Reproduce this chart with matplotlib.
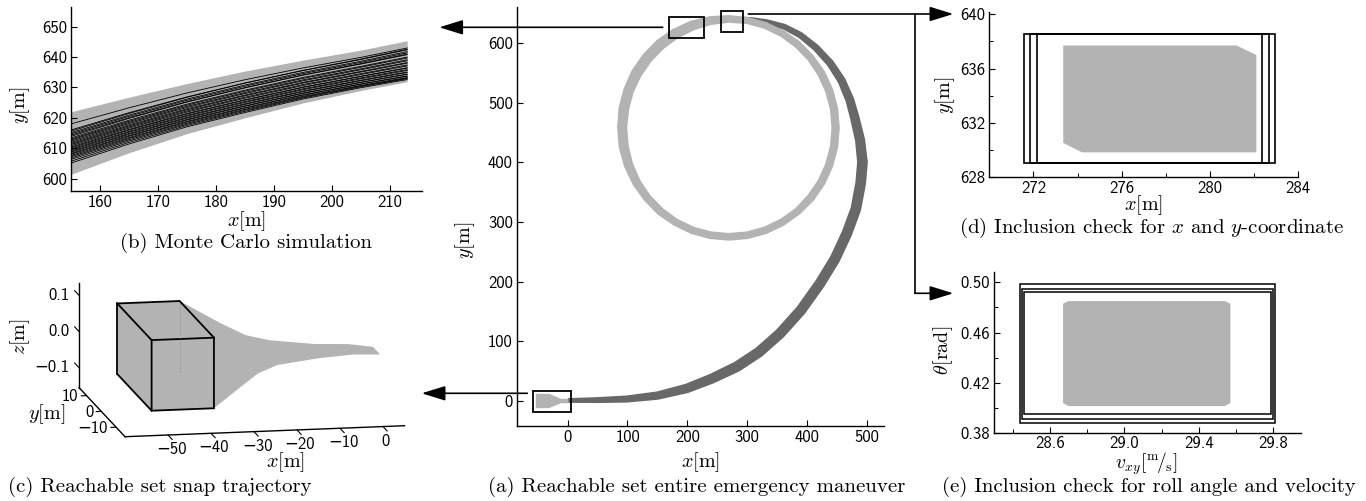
import numpy as np
import matplotlib
matplotlib.use("Agg")
import matplotlib.pyplot as plt
from matplotlib.path import Path
from matplotlib.patches import PathPatch, Polygon, Rectangle, FancyArrowPatch

plt.rcParams["mathtext.fontset"] = "cm"

W, H = 1366, 501
LIGHT = "#b3b3b3"
DARK = "#686868"
TICK_FONT = ["cmss10", "DejaVu Sans"]
CAP_FONT = "cmr10"

# ---------------- (a) whole manoeuvre -----------------
# start of the manoeuvre (light funnel)
start_x = [-54.2, -31.8, -12.3, 0.5]
start_top = [12.9, 12.9, 4.5, 4.3]
start_bot = [-11.2, -11.2, -2.8, -3.0]

# dark band: centre line and width
spiral_x = [0, 50, 99, 150, 199, 240, 283, 320, 355, 390, 422, 447, 467, 482,
            490, 493, 489, 480, 472, 458, 439, 415, 389, 362, 333, 308, 290]
spiral_y = [0.8, 1.5, 3.3, 9, 21, 37, 57.5, 82, 113, 152, 197, 238, 281, 322,
            365, 400, 437, 475, 504, 537, 566, 592, 613, 627, 635, 639, 640.5]
spiral_w = [8, 10, 12, 14, 16, 17, 18, 18, 18, 18, 18, 18, 18, 18,
            18, 18, 17, 16, 15, 14, 13, 12, 11, 10, 9, 8, 7]

# light ring: centre line and width (closed)
ring_x = [448.1, 445.4, 437.4, 424.2, 406.3, 384.4, 358.9, 330.6, 300.6, 269.6,
          238.6, 208.6, 180.3, 154.8, 132.9, 115.0, 101.8, 93.8, 91.1, 93.8,
          101.8, 115.0, 132.9, 154.8, 180.3, 208.6, 238.6, 269.6, 300.6, 330.6,
          358.9, 384.4, 406.3, 424.2, 437.4, 445.4]
ring_y = [457.5, 489.3, 519.9, 548.8, 574.8, 597.3, 615.5, 629.1, 637.3, 640.0,
          637.3, 629.1, 615.5, 597.3, 574.8, 548.8, 519.9, 489.3, 457.5, 425.7,
          395.1, 366.2, 340.2, 317.7, 299.5, 285.9, 277.7, 275.0, 277.7, 285.9,
          299.5, 317.7, 340.2, 366.2, 395.1, 425.7]
ring_w = [14, 14, 14, 14, 13, 13, 12, 12, 12, 13, 15, 17, 18, 19, 19, 19, 18, 18,
          17, 17, 16, 15, 14, 14, 13, 13, 13, 13, 13, 13, 13, 13, 14, 14, 14, 14]

# zoom boxes (x0, y0, width, height)
zoom_boxes = [(-58.5, -17.9, 64, 35.2), (170, 607.5, 58, 35.5), (257, 618, 36.6, 36)]

# ---------------- (b) Monte Carlo -----------------
mc_band_x = [155, 165, 175, 185, 195, 205, 213]
mc_band_top = [622, 626.8, 631.3, 635.4, 639.0, 642.3, 645.4]
mc_band_bot = [601.4, 608.5, 614.8, 620.0, 624.9, 629.0, 631.9]
mc_start = [618.0, 616.0, 615.6, 615.1, 614.7, 614.3, 613.9, 613.4, 613.0, 612.7,
            612.3, 611.9, 611.5, 611.2, 610.8, 610.4, 610.1, 609.7, 609.4, 609.0,
            608.7, 608.3, 608.0, 607.6, 607.2, 606.8, 606.3, 605.7, 605.1]
mc_end = [643.0, 642.4, 642.6, 641.8, 641.4, 640.8, 641.0, 640.0, 639.7, 639.1,
          638.8, 638.2, 638.0, 637.4, 637.1, 636.5, 636.4, 635.9, 635.6, 635.1,
          634.9, 634.4, 634.3, 633.8, 633.7, 633.3, 633.1, 632.9, 632.6]

# ---------------- (c) snap trajectory (3-D) -----------------
c_xlim = (-60, 5)
c_ylim = (-16, 15)
c_zlim = (-0.155, 0.134)
c_xticks = [-50, -40, -30, -20, -10, 0]
c_yticks = [-10, 0, 10]
c_zticks = [-0.1, 0.0, 0.1]
box_x = (-52.3, -37.8)
box_y = (-11.6, 11.6)
box_z = (-0.106, 0.089)
funnel_x = [-37.8, -30, -25, -20, -10, -2, 4.0]
funnel_hy = [11.6, 7.0, 4.2, 2.6, 1.5, 1.6, 2.4]
funnel_zhi = [0.089, 0.045, 0.021, 0.0116, 0.0014, -0.003, -0.017]
funnel_zlo = [-0.106, -0.0707, -0.048, -0.0343, -0.0248, -0.018, -0.017]

# ---------------- (d) inclusion x / y -----------------
d_rect_x = [(271.55, 282.95), (271.85, 282.65), (272.15, 282.35)]
d_rect_y = (629.0, 638.58)
d_set_x = [273.35, 281.2, 282.1, 282.1, 274.2, 273.35]
d_set_y = [637.7, 637.7, 637.0, 629.8, 629.8, 630.5]

# ---------------- (e) inclusion roll angle / velocity -----------------
e_rect_x = [(28.44, 29.81), (28.45, 29.80), (28.46, 29.79)]
e_rect_y = [(0.3884, 0.4984), (0.3911, 0.4944), (0.3951, 0.4920)]
e_set_x = [28.67, 28.70, 29.54, 29.57, 29.57, 29.54, 28.70, 28.67]
e_set_y = [0.4040, 0.4016, 0.4016, 0.4040, 0.4830, 0.4851, 0.4851, 0.4830]


fig = plt.figure(figsize=(W / 100, H / 100), dpi=100)


def px_axes(x0, y0, x1, y1):
    return fig.add_axes([x0 / W, 1 - y1 / H, (x1 - x0) / W, (y1 - y0) / H])


def ftext(x, y, s, **kw):
    kw.setdefault("ha", "center")
    kw.setdefault("va", "center")
    kw.setdefault("fontsize", 14.5)
    fig.text(x / W, 1 - y / H, s, **kw)


def style(ax):
    for s in ["top", "right"]:
        ax.spines[s].set_visible(False)
    for s in ["left", "bottom"]:
        ax.spines[s].set_linewidth(1.0)
    ax.tick_params(which="major", direction="in", length=4, width=0.8,
                   labelsize=12, pad=3, labelfontfamily=TICK_FONT)
    ax.tick_params(which="minor", direction="in", length=3, width=0.7)


def band_edges(xs, ys, ws, closed=False):
    xs, ys, ws = np.asarray(xs, float), np.asarray(ys, float), np.asarray(ws, float)
    if closed:
        tx = np.roll(xs, -1) - np.roll(xs, 1)
        ty = np.roll(ys, -1) - np.roll(ys, 1)
    else:
        tx, ty = np.gradient(xs), np.gradient(ys)
    n = np.hypot(tx, ty)
    nx, ny = -ty / n, tx / n
    outer = np.c_[xs + nx * ws / 2, ys + ny * ws / 2]
    inner = np.c_[xs - nx * ws / 2, ys - ny * ws / 2]
    return outer, inner


# ---- (a)
ax_a = px_axes(517, 7, 884, 426)
style(ax_a)
ax_a.set_xlim(-84.8, 529)
ax_a.set_ylim(-41.9, 660)
ax_a.set_xticks([0, 100, 200, 300, 400, 500])
ax_a.set_yticks([0, 100, 200, 300, 400, 500, 600])

out, inn = band_edges(spiral_x, spiral_y, spiral_w)
ax_a.add_patch(Polygon(np.vstack([out, inn[::-1]]), closed=True, fc=DARK, ec="none"))
ax_a.fill_between(start_x, start_bot, start_top, color=LIGHT, lw=0)
out, inn = band_edges(ring_x, ring_y, ring_w, closed=True)
verts = np.vstack([out, out[:1], inn[::-1], inn[-1:]])
codes = ([Path.MOVETO] + [Path.LINETO] * (len(out) - 1) + [Path.CLOSEPOLY]
         + [Path.MOVETO] + [Path.LINETO] * (len(inn) - 1) + [Path.CLOSEPOLY])
ax_a.add_patch(PathPatch(Path(verts, codes), fc=LIGHT, ec="none"))
for bx, by, bw, bh in zoom_boxes:
    ax_a.add_patch(Rectangle((bx, by), bw, bh, fill=False, ec="k", lw=1.3, zorder=5))

ftext(700, 461.7, r"$x[\mathrm{m}]$")
ftext(465, 240, r"$y[\mathrm{m}]$", rotation=90)
ftext(697, 487, "(a) Reachable set entire emergency maneuver", family=CAP_FONT, fontsize=15)

# ---- (b)
ax_b = px_axes(71, 7, 421.7, 190.7)
style(ax_b)
ax_b.set_xlim(155, 215.5)
ax_b.set_ylim(596, 656.5)
ax_b.set_xticks([160, 170, 180, 190, 200, 210])
ax_b.set_yticks([600, 610, 620, 630, 640, 650])
bx = np.asarray(mc_band_x, float)
btop = np.asarray(mc_band_top)
bbot = np.asarray(mc_band_bot)
ax_b.fill_between(bx, bbot, btop, color=LIGHT, lw=0)
f = (bx - bx[0]) / (bx[-1] - bx[0])
for y0, y1 in zip(mc_start, mc_end):
    r0 = (y0 - bbot[0]) / (btop[0] - bbot[0])
    r1 = (y1 - bbot[-1]) / (btop[-1] - bbot[-1])
    r = r0 + (r1 - r0) * f
    ax_b.plot(bx, bbot + r * (btop - bbot), color="k", lw=0.6)
ftext(246, 221, r"$x[\mathrm{m}]$")
ftext(20, 105, r"$y[\mathrm{m}]$", rotation=90)
ftext(246, 243, "(b) Monte Carlo simulation", family=CAP_FONT, fontsize=15)

# ---- (c) oblique 3-D view drawn in pixel space
ax_c = px_axes(0, 260, 430, 501)
ax_c.set_xlim(0, 430)
ax_c.set_ylim(501, 260)
ax_c.axis("off")
C_O = (125.0, 436.7)
C_EX = (4.3, -0.169)
C_EY = (-1.48, -1.58)
C_EZ = (0.0, -362.0)


def proj(x, y, z):
    dx, dy, dz = x - c_xlim[0], y - c_ylim[0], z - c_zlim[0]
    return (C_O[0] + dx * C_EX[0] + dy * C_EY[0] + dz * C_EZ[0],
            C_O[1] + dx * C_EX[1] + dy * C_EY[1] + dz * C_EZ[1])


upper = [proj(x, hy, zh) for x, hy, zh in zip(funnel_x, funnel_hy, funnel_zhi)]
lower = [proj(x, -hy, zl) for x, hy, zl in zip(funnel_x, funnel_hy, funnel_zlo)]
ax_c.add_patch(Polygon(upper + lower[::-1], closed=True, fc=LIGHT, ec="none"))

xl, xr = box_x
yf, yb = box_y
zb, zt = box_z
left_face = [proj(xl, yf, zb), proj(xl, yf, zt), proj(xl, yb, zt), proj(xl, yb, zb)]
top_face = [proj(xl, yf, zt), proj(xr, yf, zt), proj(xr, yb, zt), proj(xl, yb, zt)]
front_face = [proj(xl, yf, zb), proj(xr, yf, zb), proj(xr, yf, zt), proj(xl, yf, zt)]
ax_c.add_patch(Polygon(left_face, fc=LIGHT, ec="none"))
ax_c.add_patch(Polygon(top_face, fc=LIGHT, ec="none"))
p0, p1 = proj(xr, yb, zt), proj(xr, yb, zb)
ax_c.plot([p0[0], p1[0]], [p0[1], p1[1]], color="#909090", lw=0.7, ls=":")
ax_c.add_patch(Polygon(front_face, fc=LIGHT, ec="k", lw=1.3, joinstyle="miter"))
edges = [((xl, yb, zt), (xr, yb, zt)), ((xl, yb, zt), (xl, yf, zt)),
         ((xr, yb, zt), (xr, yf, zt)), ((xl, yb, zt), (xl, yb, zb)),
         ((xl, yb, zb), (xl, yf, zb))]
for a, b in edges:
    pa, pb = proj(*a), proj(*b)
    ax_c.plot([pa[0], pb[0]], [pa[1], pb[1]], color="k", lw=1.3, solid_capstyle="round")

# 3-D axes lines
x0, x1 = c_xlim
y0, y1 = c_ylim
z0, z1 = c_zlim
for a, b in [((x0, y0, z0), (x1, y0, z0)), ((x0, y0, z0), (x0, y1, z0)),
             ((x0, y1, z0), (x0, y1, z1))]:
    pa, pb = proj(*a), proj(*b)
    ax_c.plot([pa[0], pb[0]], [pa[1], pb[1]], color="k", lw=1.0)
for t in c_xticks:
    pa, pb = proj(t, y0, z0), proj(t, y0 - 2.8, z0)
    ax_c.plot([pa[0], pb[0]], [pa[1], pb[1]], color="k", lw=0.8)
    ax_c.text(pa[0] + 3, pa[1] + 14.5, f"{t}".replace("-", "\u2212"),
              ha="center", va="center", fontsize=12, family=TICK_FONT)
for t in c_yticks:
    pa = proj(x0, t, z0)
    pb = proj(x0 - 1.2, t, z0)
    ax_c.plot([pa[0], pb[0]], [pa[1], pb[1]], color="k", lw=0.8)
    ax_c.text(pa[0] - 8, pa[1] + 1, f"{t}".replace("-", "\u2212"),
              ha="right", va="center", fontsize=12, family=TICK_FONT)
for t in c_zticks:
    pa = proj(x0, y1, t)
    pb = proj(x0, y1 + 3, t)
    ax_c.plot([pa[0], pb[0]], [pa[1], pb[1]], color="k", lw=0.8)
    ax_c.text(pa[0] - 10, pa[1], f"{t:.1f}".replace("-", "\u2212"),
              ha="right", va="center", fontsize=12, family=TICK_FONT)
ftext(20, 336.7, r"$z[\mathrm{m}]$", rotation=90)
ftext(46.7, 414, r"$y[\mathrm{m}]$")
ftext(285, 462, r"$x[\mathrm{m}]$")
ftext(160, 487, "(c) Reachable set snap trajectory", family=CAP_FONT, fontsize=15)

# ---- (d)
ax_d = px_axes(989.3, 11.7, 1298.3, 176.7)
style(ax_d)
ax_d.set_xlim(270, 284)
ax_d.set_ylim(628, 640.2)
ax_d.set_xticks([272, 276, 280, 284])
ax_d.set_xticks([274, 278, 282], minor=True)
ax_d.set_yticks([628, 632, 636, 640])
ax_d.set_yticks([630, 634, 638], minor=True)
ax_d.add_patch(Polygon(np.c_[d_set_x, d_set_y], fc=LIGHT, ec="none"))
for (ra, rb) in d_rect_x:
    ax_d.add_patch(Rectangle((ra, d_rect_y[0]), rb - ra, d_rect_y[1] - d_rect_y[0],
                             fill=False, ec="k", lw=1.2))
ftext(1143.3, 205, r"$x[\mathrm{m}]$")
ftext(945, 95, r"$y[\mathrm{m}]$", rotation=90)
ftext(1152, 228, r"(d) Inclusion check for $x$ and $y$-coordinate", family=CAP_FONT,
      fontsize=15)

# ---- (e)
ax_e = px_axes(994.3, 271.7, 1301, 433.3)
style(ax_e)
ax_e.set_xlim(28.3, 29.95)
ax_e.set_ylim(0.38, 0.5084)
ax_e.set_xticks([28.6, 29.0, 29.4, 29.8])
ax_e.set_xticks([28.4, 28.8, 29.2, 29.6], minor=True)
ax_e.set_yticks([0.38, 0.42, 0.46, 0.50])
ax_e.set_yticks([0.40, 0.44, 0.48], minor=True)
ax_e.set_xticklabels(["28.6", "29.0", "29.4", "29.8"])
ax_e.set_yticklabels(["0.38", "0.42", "0.46", "0.50"])
ax_e.tick_params(axis="x", which="major", pad=2)
ax_e.add_patch(Polygon(np.c_[e_set_x, e_set_y], fc=LIGHT, ec="none"))
for (ra, rb), (ya, yb2) in zip(e_rect_x, e_rect_y):
    ax_e.add_patch(Rectangle((ra, ya), rb - ra, yb2 - ya, fill=False, ec="k", lw=1.1))
ftext(1146.7, 464, r"$v_{xy}[^{\mathrm{m}}\!/_{\mathrm{s}}]$", fontsize=14)
ftext(943.3, 350, r"$\theta[\mathrm{rad}]$", rotation=90)
ftext(1149, 487, "(e) Inclusion check for roll angle and velocity", family=CAP_FONT,
      fontsize=15)

# ---- connecting arrows (figure pixels)
def fig_arrow(p, q, head=True):
    style_ = "-|>,head_length=1.45,head_width=0.45" if head else "-"
    fig.add_artist(FancyArrowPatch((p[0] / W, 1 - p[1] / H), (q[0] / W, 1 - q[1] / H),
                                   transform=fig.transFigure, arrowstyle=style_,
                                   mutation_scale=10, shrinkA=0, shrinkB=0,
                                   lw=1.2, color="k"))


fig_arrow((662.7, 27.3), (439.3, 27.3))
fig_arrow((527.3, 393.3), (421.7, 393.3))
fig_arrow((748.3, 14), (953.3, 14))
fig_arrow((915, 14), (915, 293.3), head=False)
fig_arrow((915, 293.3), (953.3, 293.3))

fig.savefig("out.png", dpi=100)
